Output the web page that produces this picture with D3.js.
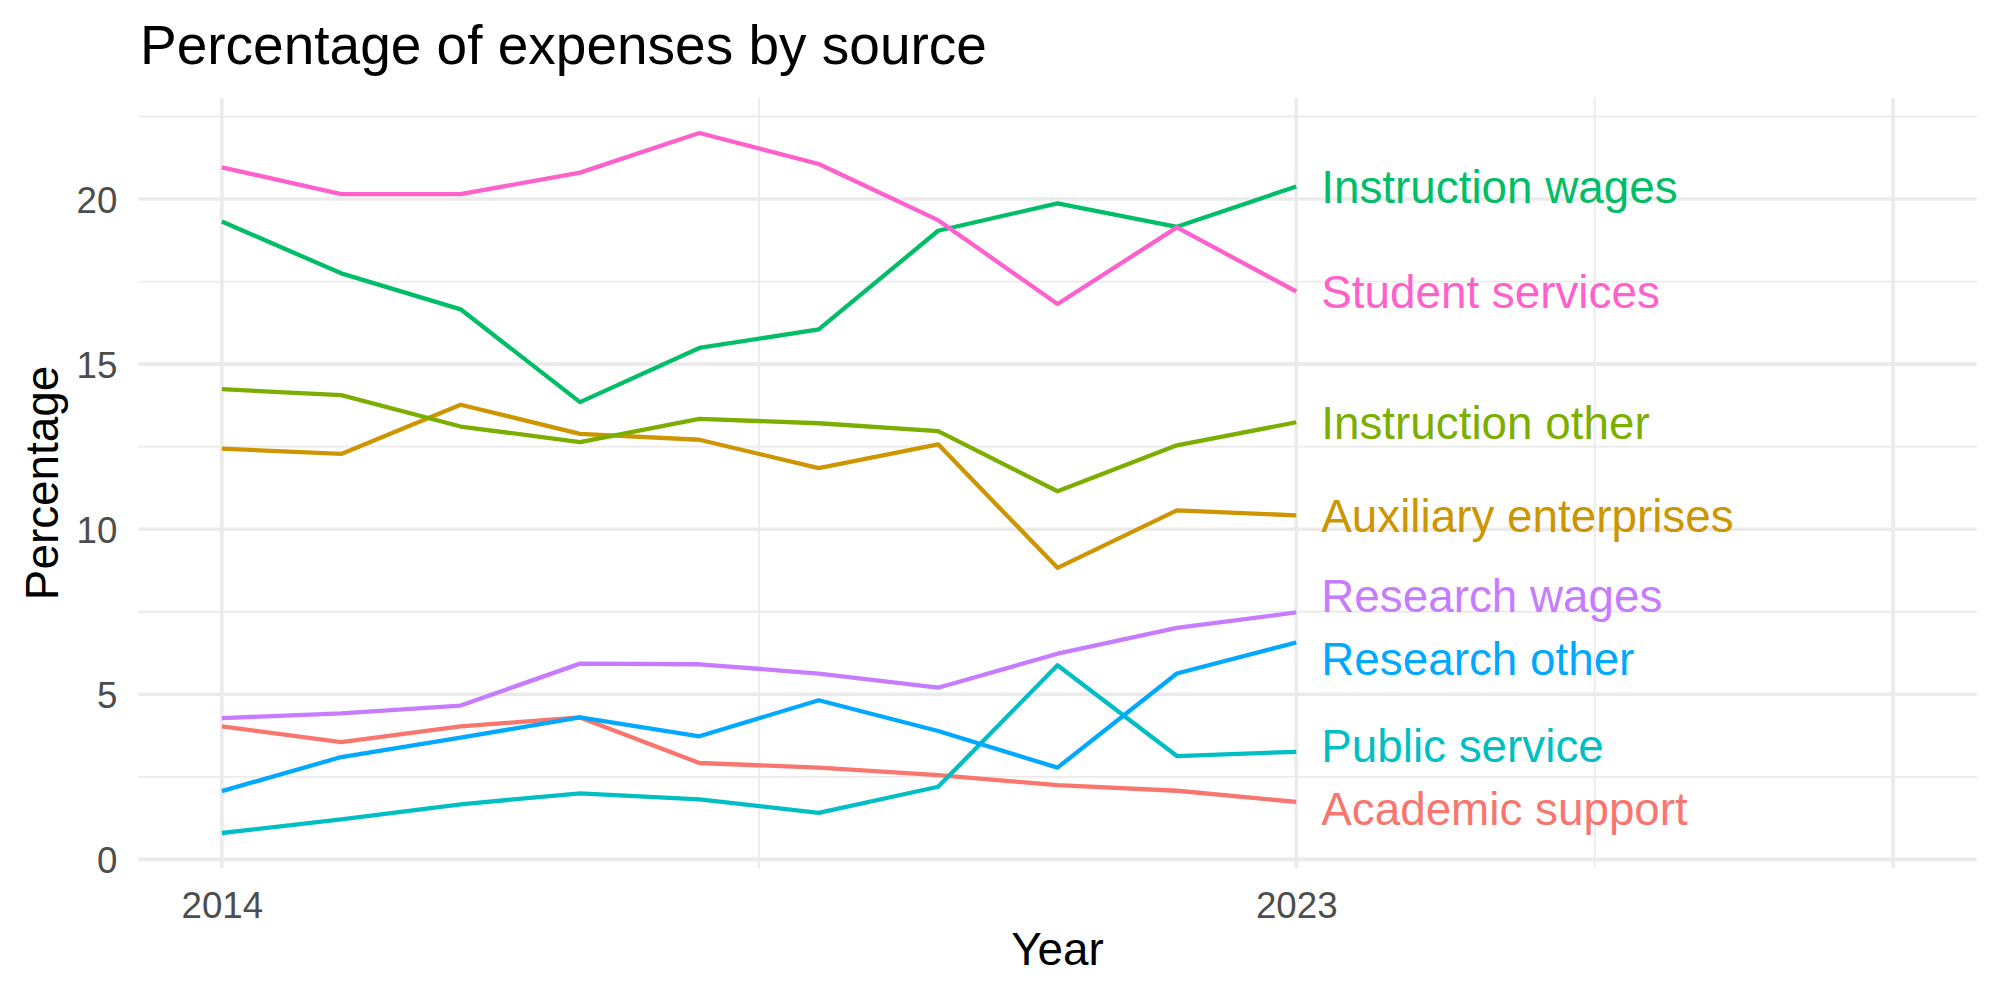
<!DOCTYPE html>
<html>
<head>
<meta charset="utf-8">
<script src="https://cdn.jsdelivr.net/npm/d3@7"></script>
<style>
  body { margin: 0; background: #fff; }
  text { font-family: "Liberation Sans", Arial, Helvetica, sans-serif; }
</style>
</head>
<body>
<div id="chart"></div>
<script>
// values
const years = [2014, 2015, 2016, 2017, 2018, 2019, 2020, 2021, 2022, 2023]

const sources = [
    'Academic support', 'Auxiliary enterprises', 'Instruction other', 'Instruction wages',
    'Public service', 'Research other', 'Research wages', 'Student services'
]

const academicSupport = [4.03, 3.55, 4.03, 4.30, 2.92, 2.78, 2.55, 2.25, 2.08, 1.74]
const auxiliaryEnterprises = [12.44, 12.28, 13.77, 12.89, 12.71, 11.85, 12.57, 8.83, 10.57, 10.42]
const instructionOther = [14.24, 14.06, 13.11, 12.64, 13.34, 13.21, 12.97, 11.15, 12.54, 13.24]
const instructionWages = [19.32, 17.75, 16.66, 13.85, 15.49, 16.05, 19.04, 19.87, 19.16, 20.38]
const publicService = [0.80, 1.21, 1.67, 2.00, 1.82, 1.41, 2.20, 5.88, 3.13, 3.26]
const researchOther = [2.07, 3.10, 3.69, 4.30, 3.73, 4.82, 3.89, 2.78, 5.63, 6.57]
const researchWages = [4.28, 4.42, 4.66, 5.93, 5.91, 5.63, 5.20, 6.23, 7.01, 7.48]
const studentServices = [20.96, 20.15, 20.15, 20.80, 22.00, 21.06, 19.36, 16.82, 19.14, 17.20]

const seriesValues = [
    academicSupport, auxiliaryEnterprises, instructionOther, instructionWages,
    publicService, researchOther, researchWages, studentServices
]

const xBreaks = [2014, 2023, 2028]
const xLabels = ['2014', '2023', '']
const xMinorBreaks = [2018.5, 2025.5]
const yBreaks = [0, 5, 10, 15, 20]
const yMinorBreaks = [2.5, 7.5, 12.5, 17.5, 22.5]
const xLimitRight = 2028

const width = 2000
const height = 1000
const panel = { left: 138.3, right: 1976.7, top: 98, bottom: 868 }

const data = sources.map((name, i) => ({
    name: name,
    points: years.map((yr, j) => ({ year: yr, value: seriesValues[i][j] }))
}))

const color = d3.scaleOrdinal()
    .domain(sources)
    .range(['#F8766D', '#CD9600', '#7CAE00', '#00BE67', '#00BFC4', '#00A9FF', '#C77CFF', '#FF61CC'])

// ggplot-like 5% expansion
const xLo = d3.min(years), xHi = xLimitRight
const xPad = (xHi - xLo) * 0.05
const x = d3.scaleLinear()
    .domain([xLo - xPad, xHi + xPad])
    .range([panel.left, panel.right])

const allVals = seriesValues.flat()
const yLo = d3.min(allVals), yHi = d3.max(allVals)
const yPad = (yHi - yLo) * 0.05
const y = d3.scaleLinear()
    .domain([yLo - yPad, yHi + yPad])
    .range([panel.bottom, panel.top])

const svg = d3.select('#chart').append('svg')
    .attr('width', width)
    .attr('height', height)

// grid
const grid = svg.append('g').attr('class', 'grid')
grid.selectAll('line.ymin').data(yMinorBreaks).enter().append('line')
    .attr('x1', panel.left).attr('x2', panel.right)
    .attr('y1', (d) => y(d)).attr('y2', (d) => y(d))
    .attr('stroke', '#EBEBEB').attr('stroke-width', 1.8)
grid.selectAll('line.xmin').data(xMinorBreaks).enter().append('line')
    .attr('y1', panel.top).attr('y2', panel.bottom)
    .attr('x1', (d) => x(d)).attr('x2', (d) => x(d))
    .attr('stroke', '#EBEBEB').attr('stroke-width', 1.8)
grid.selectAll('line.ymaj').data(yBreaks).enter().append('line')
    .attr('x1', panel.left).attr('x2', panel.right)
    .attr('y1', (d) => y(d)).attr('y2', (d) => y(d))
    .attr('stroke', '#EBEBEB').attr('stroke-width', 3.6)
grid.selectAll('line.xmaj').data(xBreaks).enter().append('line')
    .attr('y1', panel.top).attr('y2', panel.bottom)
    .attr('x1', (d) => x(d)).attr('x2', (d) => x(d))
    .attr('stroke', '#EBEBEB').attr('stroke-width', 3.6)

// axes
const yAxis = svg.append('g')
    .attr('transform', 'translate(' + panel.left + ',0)')
    .call(d3.axisLeft(y).tickValues(yBreaks).tickSize(0).tickPadding(21).tickFormat(d3.format('d')))
yAxis.select('.domain').remove()
yAxis.selectAll('text')
    .attr('dy', '0.36em')
    .attr('fill', '#4D4D4D')
    .style('font-size', '36.7px')

const xAxis = svg.append('g')
    .attr('transform', 'translate(0,' + panel.bottom + ')')
    .call(d3.axisBottom(x).tickValues(xBreaks).tickSize(0).tickPadding(24)
        .tickFormat((d, i) => xLabels[i]))
xAxis.select('.domain').remove()
xAxis.selectAll('text')
    .attr('fill', '#4D4D4D')
    .style('font-size', '36.7px')

// lines
const line = d3.line()
    .x((d) => x(d.year))
    .y((d) => y(d.value))

svg.append('g').attr('class', 'lines')
    .selectAll('path')
    .data(data)
    .enter()
    .append('path')
    .attr('d', (d) => line(d.points))
    .attr('fill', 'none')
    .attr('stroke', (d) => color(d.name))
    .attr('stroke-width', 4.3)
    .attr('stroke-linejoin', 'round')

// end labels, pushed apart a bit when they collide
const minGap = 63
const labels = data.map((d) => {
    const last = d.points[d.points.length - 1]
    return { name: d.name, year: last.year, ly: y(last.value) }
}).sort((a, b) => a.ly - b.ly)

for (let iter = 0; iter < 200; iter++) {
    let moved = false
    for (let i = 1; i < labels.length; i++) {
        const gap = labels[i].ly - labels[i - 1].ly
        if (gap < minGap) {
            const push = (minGap - gap) / 2
            labels[i - 1].ly -= push
            labels[i].ly += push
            moved = true
        }
    }
    if (!moved) break
}

svg.append('g').attr('class', 'labels')
    .selectAll('text')
    .data(labels)
    .enter()
    .append('text')
    .attr('x', (d) => x(d.year) + 25)
    .attr('y', (d) => d.ly)
    .attr('dy', '0.358em')
    .attr('fill', (d) => color(d.name))
    .style('font-size', '45.8px')
    .text((d) => d.name)

// titles
svg.append('text')
    .attr('x', 140)
    .attr('y', 64)
    .style('font-size', '55px')
    .attr('fill', '#000')
    .text('Percentage of expenses by source')

svg.append('text')
    .attr('x', (panel.left + panel.right) / 2)
    .attr('y', 965)
    .attr('text-anchor', 'middle')
    .style('font-size', '45.8px')
    .attr('fill', '#000')
    .text('Year')

svg.append('text')
    .attr('transform', 'translate(58,' + (panel.top + panel.bottom) / 2 + ') rotate(-90)')
    .attr('text-anchor', 'middle')
    .style('font-size', '45.8px')
    .attr('fill', '#000')
    .text('Percentage')
</script>
</body>
</html>
